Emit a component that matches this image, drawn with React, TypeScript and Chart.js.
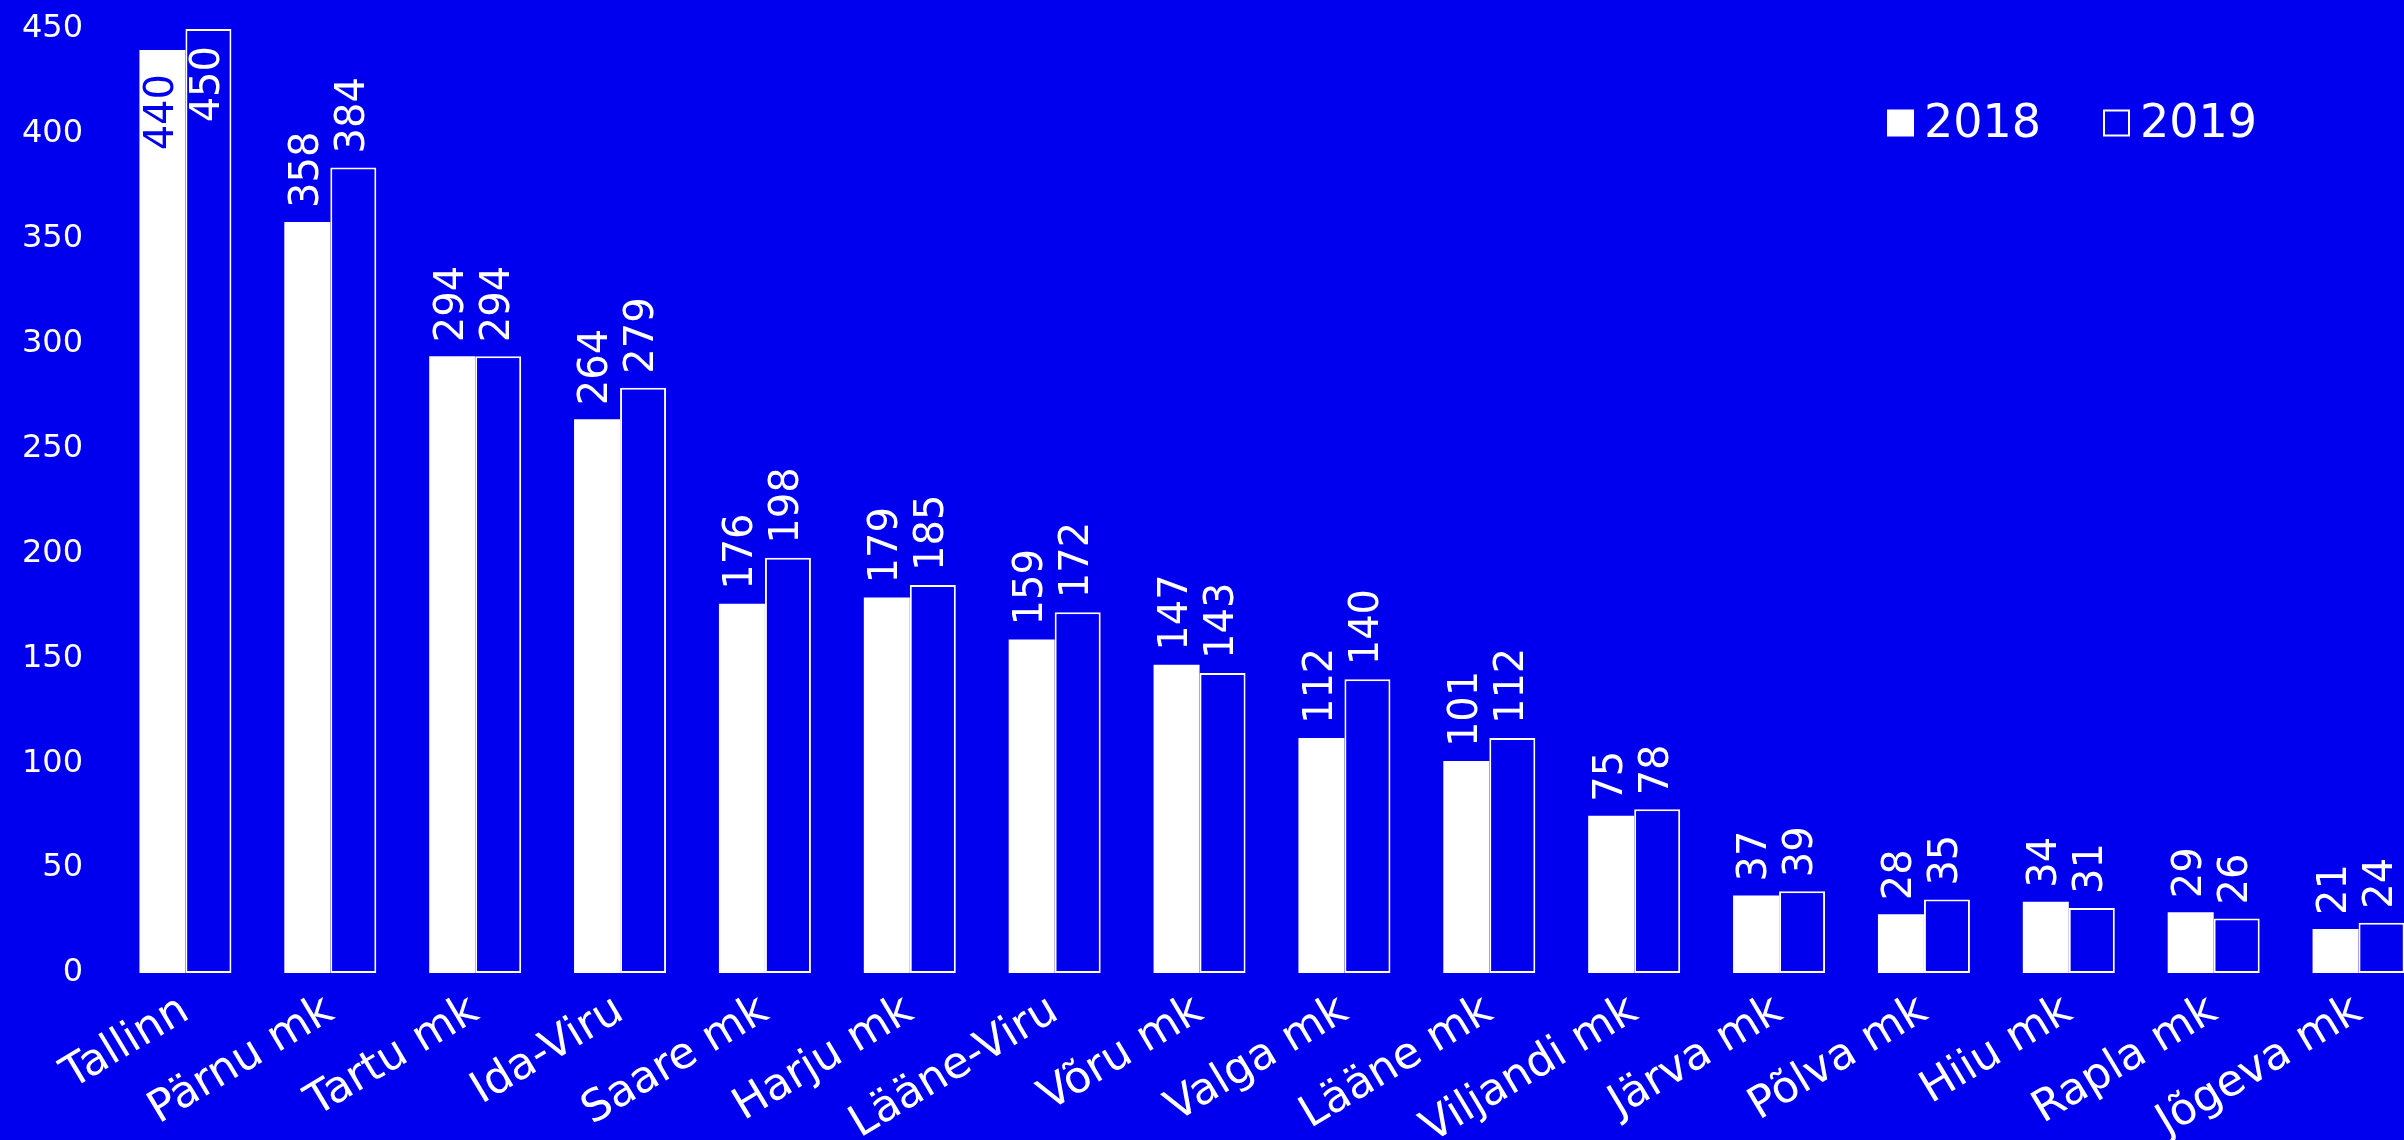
import React, { useEffect, useRef } from 'react';
import { Chart, registerables } from 'chart.js';

Chart.register(...registerables);

const categories = [
  'Tallinn', 'Pärnu mk', 'Tartu mk', 'Ida-Viru', 'Saare mk', 'Harju mk', 'Lääne-Viru', 'Võru mk',
  'Valga mk', 'Lääne mk', 'Viljandi mk', 'Järva mk', 'Põlva mk', 'Hiiu mk', 'Rapla mk', 'Jõgeva mk',
];
const values2018 = [440, 358, 294, 264, 176, 179, 159, 147, 112, 101, 75, 37, 28, 34, 29, 21];
const values2019 = [450, 384, 294, 279, 198, 185, 172, 143, 140, 112, 78, 39, 35, 31, 26, 24];
const seriesNames = ['2018', '2019'];
const yMin = 0;
const yMax = 450;
const yStep = 50;

const BG = '#0000EE';
const FG = '#FFFFFF';
const FONT = "'DejaVu Sans'";
const WEIGHT = 'normal';
const W = 2404;
const CW = 2431;
const H = 1140;

const bgPlugin = {
  id: 'bgFill',
  beforeDraw(chart: any) {
    const ctx = chart.ctx;
    ctx.save();
    ctx.fillStyle = BG;
    ctx.fillRect(0, 0, chart.width, chart.height);
    ctx.restore();
  },
};

const valueLabelPlugin = {
  id: 'valueLabels',
  afterDatasetsDraw(chart: any) {
    const ctx = chart.ctx;
    chart.data.datasets.forEach((ds: any, di: number) => {
      const meta = chart.getDatasetMeta(di);
      meta.data.forEach((bar: any, i: number) => {
        const text = String(ds.data[i]);
        ctx.save();
        ctx.font = `${WEIGHT} 40px ${FONT}`;
        const w = ctx.measureText(text).width;
        const gap = 14;
        ctx.translate(bar.x, bar.y);
        ctx.rotate(-Math.PI / 2);
        ctx.textBaseline = 'middle';
        if (bar.y - gap - w < 0) {
          ctx.textAlign = 'right';
          ctx.fillStyle = di === 0 ? BG : FG;
          ctx.fillText(text, di === 0 ? -24 : -17, 0);
        } else {
          ctx.textAlign = 'left';
          ctx.fillStyle = FG;
          ctx.fillText(text, gap, 0);
        }
        ctx.restore();
      });
    });
  },
};

const legendPlugin = {
  id: 'customLegend',
  afterDraw(chart: any) {
    const ctx = chart.ctx;
    const items = [
      { x: 1887, filled: true },
      { x: 2103, filled: false },
    ];
    const cy = 123;
    const size = 27;
    ctx.save();
    ctx.font = `${WEIGHT} 46px ${FONT}`;
    ctx.textBaseline = 'middle';
    ctx.textAlign = 'left';
    chart.data.datasets.forEach((ds: any, di: number) => {
      const it = items[di];
      if (it.filled) {
        ctx.fillStyle = FG;
        ctx.fillRect(it.x, cy - size / 2, size, size);
      } else {
        ctx.strokeStyle = FG;
        ctx.lineWidth = 2;
        ctx.strokeRect(it.x + 1, cy - size / 2 + 1, size - 2, size - 2);
      }
      ctx.fillStyle = FG;
      ctx.fillText(ds.label, it.x + size + 10, cy + 2);
    });
    ctx.restore();
  },
};

export default function App() {
  const ref = useRef<HTMLCanvasElement | null>(null);

  useEffect(() => {
    if (!ref.current) return;
    const chart = new Chart(ref.current, {
      type: 'bar',
      data: {
        labels: categories,
        datasets: [
          {
            label: seriesNames[0],
            data: values2018,
            backgroundColor: FG,
            borderWidth: 0,
            categoryPercentage: 0.635,
            barPercentage: 1,
          },
          {
            label: seriesNames[1],
            data: values2019,
            backgroundColor: BG,
            borderColor: FG,
            borderWidth: 2,
            borderSkipped: false,
            categoryPercentage: 0.635,
            barPercentage: 1,
          },
        ],
      },
      options: {
        animation: false,
        responsive: false,
        devicePixelRatio: 1,
        layout: { padding: { top: 29, right: 0, left: 0, bottom: 0 } },
        plugins: {
          legend: { display: false },
          tooltip: { enabled: false },
        },
        scales: {
          x: {
            grid: { display: false, drawTicks: false },
            border: { display: false },
            ticks: {
              color: FG,
              font: { family: FONT, size: 44, weight: WEIGHT },
              minRotation: 31,
              maxRotation: 31,
              padding: 12,
              autoSkip: false,
            },
            afterFit(scale: any) {
              scale.height = 167;
            },
          },
          y: {
            min: yMin,
            max: yMax,
            grid: { display: false, drawTicks: false },
            border: { display: false },
            ticks: {
              stepSize: yStep,
              color: FG,
              font: { family: FONT, size: 32, weight: WEIGHT },
              padding: 30,
            },
            afterFit(scale: any) {
              scale.width = 113;
              scale.paddingTop = 18;
              scale.paddingBottom = 18;
            },
          },
        },
      },
      plugins: [bgPlugin, valueLabelPlugin, legendPlugin],
    });
    return () => chart.destroy();
  }, []);

  return (
    <div style={{ position: 'fixed', left: 0, top: 0, width: W, height: H, overflow: 'hidden', background: BG }}>
      <canvas ref={ref} width={CW} height={H} style={{ width: CW, height: H, display: 'block' }} />
    </div>
  );
}
